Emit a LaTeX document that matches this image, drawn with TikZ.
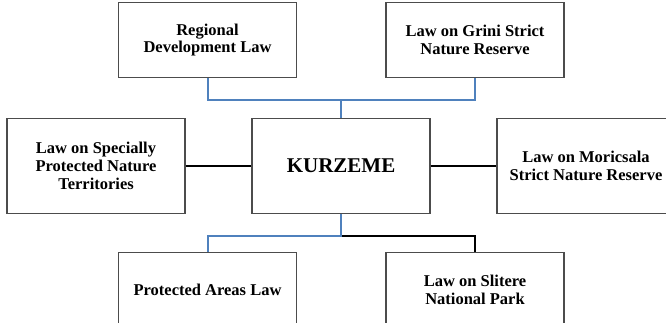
\documentclass[tikz,border=0pt]{standalone}
\usepackage{fontspec}
\setmainfont{Liberation Serif}
\usetikzlibrary{positioning}

\definecolor{wordblue}{RGB}{79,129,189}

\begin{document}
\begin{tikzpicture}[x=1bp, y=-1bp,
    law/.style={draw=black!70, line width=1.1bp, fill=white, minimum width=178bp, minimum height=75bp,
        align=center, inner sep=0pt, font=\fontsize{16.5bp}{17.8bp}\selectfont\bfseries},
    tall/.style={law, minimum height=95bp},
    blueline/.style={draw=wordblue, line width=2bp},
    blackline/.style={draw=black, line width=1.8bp}]
    \useasboundingbox (0,0) rectangle (666,322);

    % Nodes
    \node[law] (regional) at (207.5,40) {Regional\\Development Law};
    \node[law] (grini) at (475,40) {Law on Grini Strict\\Nature Reserve};
    \node[tall] (specially) at (96,166) {Law on Specially\\Protected Nature\\Territories};
    \node[tall, font=\fontsize{21bp}{24bp}\selectfont\bfseries] (kurzeme) at (341,166) {KURZEME};
    \node[tall] (moricsala) at (586,166) {Law on Moricsala\\Strict Nature Reserve};
    \node[law] (protected) at (207.5,290) {Protected Areas Law};
    \node[law] (slitere) at (475,290) {Law on Slitere\\National Park};

    % Joints
    \coordinate (topjoin) at (341,100);
    \coordinate (botjoin) at (341,236);

    % Upper branch
    \draw[blueline] (regional) |- (topjoin) -| (grini);
    \draw[blueline] (kurzeme) -- (topjoin);

    % Side links
    \draw[blackline] (specially) -- (kurzeme);
    \draw[blackline] (kurzeme) -- (moricsala);

    % Lower branch
    \draw[blackline] (botjoin) -| (slitere);
    \draw[blueline] (kurzeme) -- (botjoin) -| (protected);
\end{tikzpicture}
\end{document}
